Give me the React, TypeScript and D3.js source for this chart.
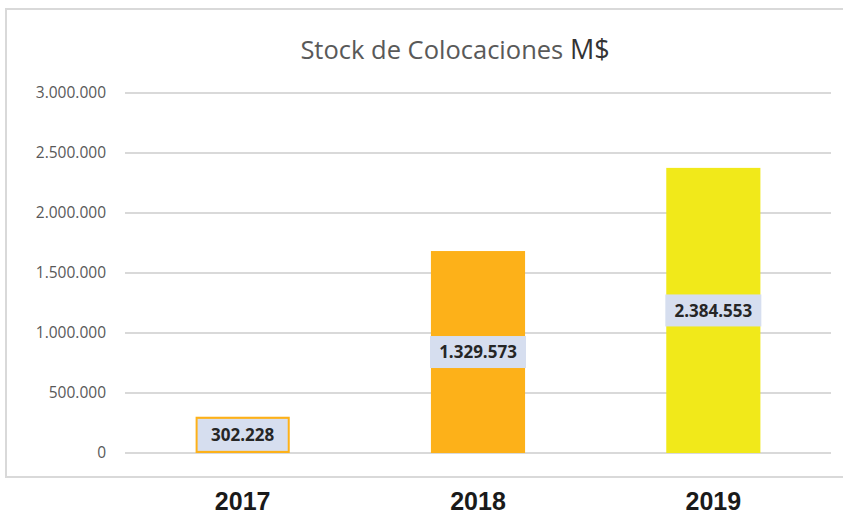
import * as d3 from "d3";

const years = ["2017", "2018", "2019"];
const barValues = [302228, 1683000, 2376000];
const valueLabels = ["302.228", "1.329.573", "2.384.553"];
const barColors = ["#FDB119", "#FDB119", "#F1E91A"];
const yTicks = [0, 500000, 1000000, 1500000, 2000000, 2500000, 3000000];

const fmt = (v: number) => d3.format(",")(v).replace(/,/g, ".");

export default function App() {
    const width = 843;
    const height = 516;
    const marginLeft = 125;
    const marginRight = 12;
    const y0 = 453;
    const yTop = 93;

    const x = d3.scaleBand(years, [marginLeft, width - marginRight]).paddingInner(0.6).paddingOuter(0.3);
    const y = d3.scaleLinear([0, 3000000], [y0, yTop]);

    return (
        <svg width={width} height={height} style={{ position: "absolute", left: 0, top: 0, background: "#fff" }}>
            <rect x={6} y={9} width={width + 10} height={468} fill="#fff" stroke="#d9d9d9" strokeWidth={2} />
            <text x={455} y={59} textAnchor="middle" fontFamily="Open Sans" fontSize={25.5} fill="#595959">
                Stock de Colocaciones <tspan fill="#333" fontSize={27}>M$</tspan>
            </text>
            {yTicks.map((t) => (
                <g key={t}>
                    <line x1={marginLeft} x2={831} y1={y(t)} y2={y(t)} stroke="#d9d9d9" strokeWidth={2} />
                    <text x={106} y={y(t)} dy="0.35em" textAnchor="end" fontFamily="Open Sans" fontSize={15.5} fill="#595959">
                        {fmt(t)}
                    </text>
                </g>
            ))}
            {years.map((yr, i) => {
                const bx = x(yr)!;
                const bw = x.bandwidth();
                const top = y(barValues[i]);
                const mid = (top + y0) / 2;
                const lw = Math.max(bw - 4, valueLabels[i].length * 10 + 6);
                return (
                    <g key={yr}>
                        <rect x={bx} y={top} width={bw} height={y0 - top} fill={barColors[i]} />
                        <rect x={bx + bw / 2 - lw / 2} y={mid - 16} width={lw} height={32} fill="#D6DEEF" />
                        <text x={bx + bw / 2} y={mid} dy="0.36em" textAnchor="middle" fontFamily="Open Sans" fontWeight="bold" fontSize={17} fill="#262626">
                            {valueLabels[i]}
                        </text>
                        <text x={bx + bw / 2} y={510} textAnchor="middle" fontFamily="Liberation Sans, Arial" fontWeight="bold" fontSize={25} fill="#1a1a1a">
                            {yr}
                        </text>
                    </g>
                );
            })}
        </svg>
    );
}
